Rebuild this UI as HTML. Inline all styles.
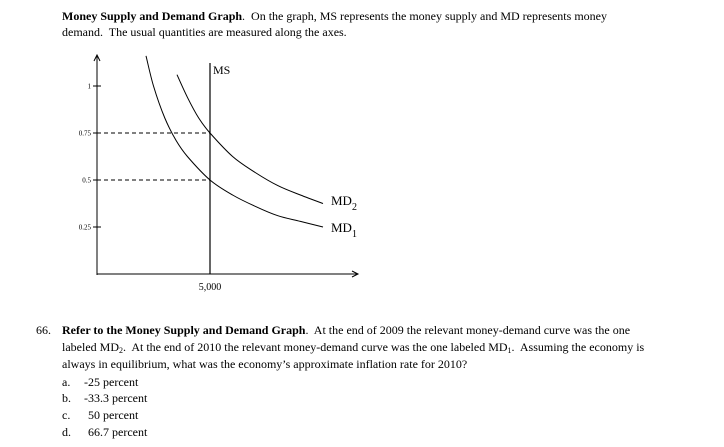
<!DOCTYPE html>
<html><head><meta charset="utf-8"><style>
body{margin:0;width:724px;height:447px;background:#fff;position:relative;overflow:hidden;font-family:"Liberation Serif",serif;font-size:12px;color:#000}
.t{position:absolute;white-space:nowrap;line-height:14px}
sub{font-size:8px;line-height:0;vertical-align:-2px}
svg{position:absolute;left:0;top:0}
</style></head><body>
<div class="t" style="left:62px;top:9px"><b>Money Supply and Demand Graph</b>.&nbsp; On the graph, MS represents the money supply and MD represents money</div>
<div class="t" style="left:62px;top:25px">demand.&nbsp; The usual quantities are measured along the axes.</div>

<svg id="chart" width="724" height="447"></svg>

<div class="t" style="left:36px;top:323px">66.</div>
<div class="t" style="left:62px;top:323px"><b>Refer to the Money Supply and Demand Graph</b>.&nbsp; At the end of 2009 the relevant money-demand curve was the one</div>
<div class="t" style="left:62px;top:340px">labeled MD<sub>2</sub>.&nbsp; At the end of 2010 the relevant money-demand curve was the one labeled MD<sub>1</sub>.&nbsp; Assuming the economy is</div>
<div class="t" style="left:62px;top:357px">always in equilibrium, what was the economy’s approximate inflation rate for 2010?</div>
<div class="t" style="left:62px;top:375px">a.</div><div class="t" style="left:84px;top:375px">-25 percent</div>
<div class="t" style="left:62px;top:391px">b.</div><div class="t" style="left:84px;top:391px">-33.3 percent</div>
<div class="t" style="left:62px;top:408px">c.</div><div class="t" style="left:88px;top:408px">50 percent</div>
<div class="t" style="left:62px;top:425px">d.</div><div class="t" style="left:88px;top:425px">66.7 percent</div>

<script>
const yTicks=[0.25,0.5,0.75,1];
const yTickLabels=["0.25","0.5","0.75","1"];
const msQuantity=5000;
const xTickLabel="5,000";
const md1Q=[2170,2500,3000,3500,4000,5000,6000,7000,8000,9000,10000];
const md1V=[1.16,1.0,0.83,0.71,0.625,0.5,0.42,0.36,0.31,0.28,0.25];
const md2Q=[3540,4000,4500,5000,6000,7000,8000,9000,10000];
const md2V=[1.06,0.94,0.83,0.75,0.625,0.54,0.47,0.42,0.375];
const dashedLevels=[0.75,0.5];

const X0=97,Y0=274;
const xs=q=>X0+q*113/5000;
const ys=v=>Y0-v*188;
const svg=document.getElementById('chart');
const NS='http://www.w3.org/2000/svg';
function mk(t,a){const e=document.createElementNS(NS,t);for(const k in a)e.setAttribute(k,a[k]);svg.appendChild(e);return e;}

let e=mk('line',{x1:X0,y1:Y0+1,x2:X0,y2:56,stroke:'#000','stroke-width':1});


e=mk('path',{d:`M${X0-3},61 L${X0},55 L${X0+3},61`,fill:'none',stroke:'#000'});


e=mk('line',{x1:X0,y1:Y0,x2:358,y2:Y0,stroke:'#000','stroke-width':1});


e=mk('path',{d:`M352,${Y0-3} L358,${Y0} L352,${Y0+3}`,fill:'none',stroke:'#000'});



yTicks.forEach((v,i)=>{
  const y=ys(v);
  let t=mk('line',{x1:X0-4,y1:y,x2:X0+4,y2:y,stroke:'#000'});
  
  
  let l=mk('text',{x:X0-6,y:y+2.5,'text-anchor':'end','font-size':'7','font-family':'Liberation Serif, serif'});
  l.textContent=yTickLabels[i];
  
  
});
dashedLevels.forEach(v=>{
  let d=mk('line',{x1:X0,y1:ys(v),x2:xs(msQuantity),y2:ys(v),stroke:'#000','stroke-dasharray':'4,3'});
  
  
});
e=mk('line',{x1:xs(msQuantity),y1:Y0,x2:xs(msQuantity),y2:63,stroke:'#000','stroke-width':1.2});


e=mk('text',{x:xs(msQuantity)+3,y:74,'font-size':'12','font-family':'Liberation Serif, serif'});
e.textContent='MS';


e=mk('text',{x:xs(msQuantity),y:Y0+16,'text-anchor':'middle','font-size':'10','font-family':'Liberation Serif, serif'});
e.textContent=xTickLabel;



function curve(Q,V){
  const p=Q.map((q,i)=>[xs(q),ys(V[i])]);
  let d='M'+p[0][0].toFixed(1)+','+p[0][1].toFixed(1);
  for(let i=0;i<p.length-1;i++){
    const p0=p[Math.max(0,i-1)],p1=p[i],p2=p[i+1],p3=p[Math.min(p.length-1,i+2)];
    const c1=[p1[0]+(p2[0]-p0[0])/6,p1[1]+(p2[1]-p0[1])/6];
    const c2=[p2[0]-(p3[0]-p1[0])/6,p2[1]-(p3[1]-p1[1])/6];
    d+=` C${c1[0].toFixed(1)},${c1[1].toFixed(1)} ${c2[0].toFixed(1)},${c2[1].toFixed(1)} ${p2[0].toFixed(1)},${p2[1].toFixed(1)}`;
  }
  return d;
}
e=mk('path',{d:curve(md1Q,md1V),fill:'none',stroke:'#000','stroke-width':1});


e=mk('path',{d:curve(md2Q,md2V),fill:'none',stroke:'#000','stroke-width':1});


e=mk('text',{x:331,y:205,'font-size':'13','font-family':'Liberation Serif, serif'});
e.innerHTML='MD<tspan font-size="10" dy="5">2</tspan>';


e=mk('text',{x:331,y:232,'font-size':'13','font-family':'Liberation Serif, serif'});
e.innerHTML='MD<tspan font-size="10" dy="5">1</tspan>';


</script>
</body></html>
